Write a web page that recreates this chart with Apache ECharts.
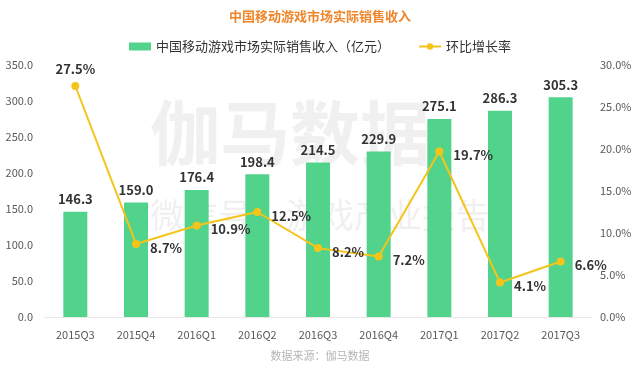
<!DOCTYPE html>
<html><head><meta charset="utf-8">
<script src="https://cdn.jsdelivr.net/npm/echarts@6/dist/echarts.min.js"></script>
<style>html,body{margin:0;padding:0;background:#fff}#c{width:640px;height:370px}</style>
</head><body><div id="c"></div>
<script>
const categories = ['2015Q3','2015Q4','2016Q1','2016Q2','2016Q3','2016Q4','2017Q1','2017Q2','2017Q3'];
const revenue = [146.3,159.0,176.4,198.4,214.5,229.9,275.1,286.3,305.3];
const growth = [27.5,8.7,10.9,12.5,8.2,7.2,19.7,4.1,6.6];
const revenueName = '中国移动游戏市场实际销售收入（亿元）';
const growthName = '环比增长率';
const titleText = '中国移动游戏市场实际销售收入';
const sourceText = '数据来源：伽马数据';

const font = '"Microsoft YaHei","Noto Sans CJK SC",sans-serif';
const chart = echarts.init(document.getElementById('c'));
const gdata = growth.map((v,i)=> i===0 ? {value:v,label:{position:'top',distance:6,offset:[0,0]}} : v);
chart.setOption({
  animation:false,
  textStyle:{fontFamily:font},
  title:{text:titleText,left:'center',top:5,textStyle:{color:'#F0862A',fontSize:13,fontWeight:'bold',fontFamily:font}},
  graphic:[
    {type:'text',left:'center',top:350,style:{text:sourceText,fill:'#b5b5b5',fontSize:11,fontFamily:font}},
    {type:'text',left:150,top:98,z:-1,style:{text:'伽马数据',fill:'rgba(205,205,205,0.3)',fontSize:70,fontWeight:'bold',fontFamily:font}},
    {type:'text',left:150,top:198,z:-1,style:{text:'微信号：游戏产业报告',fill:'rgba(205,205,205,0.3)',fontSize:34,fontFamily:font}}
  ],
  legend:{top:35,left:'center',itemGap:28,itemWidth:22,itemHeight:8,
    textStyle:{color:'#333',fontSize:13,fontFamily:font},
    data:[{name:revenueName,icon:'rect'},{name:growthName}]},
  grid:{left:45,right:49,top:65,bottom:53,containLabel:false},
  xAxis:{type:'category',data:categories,
    axisLine:{lineStyle:{color:'#e6e6e6'}},axisTick:{show:false},
    axisLabel:{color:'#595959',fontSize:11,margin:12}},
  yAxis:[
    {type:'value',min:0,max:350,interval:50,
      axisLabel:{color:'#595959',fontSize:11,formatter:v=>v.toFixed(1),margin:12},
      splitLine:{show:false},axisLine:{show:false},axisTick:{show:false}},
    {type:'value',min:0,max:30,interval:5,
      axisLabel:{color:'#595959',fontSize:11,formatter:v=>v.toFixed(1)+'%',margin:9},
      splitLine:{show:false},axisLine:{show:false},axisTick:{show:false}}
  ],
  series:[
    {name:revenueName,type:'bar',data:revenue,barWidth:24,
      itemStyle:{color:'#52D38C'},
      label:{show:true,position:'top',distance:6,color:'#333',fontWeight:'bold',fontSize:13,formatter:p=>p.value.toFixed(1)}},
    {name:growthName,type:'line',yAxisIndex:1,data:gdata,
      symbol:'circle',symbolSize:8,
      lineStyle:{color:'#F5C41B',width:2},itemStyle:{color:'#F5C41B'},
      label:{show:true,position:'right',distance:10,offset:[0,4],color:'#333',fontWeight:'bold',fontSize:13,
        formatter:p=>p.value.toFixed(1)+'%'}}
  ]
});
</script></body></html>
